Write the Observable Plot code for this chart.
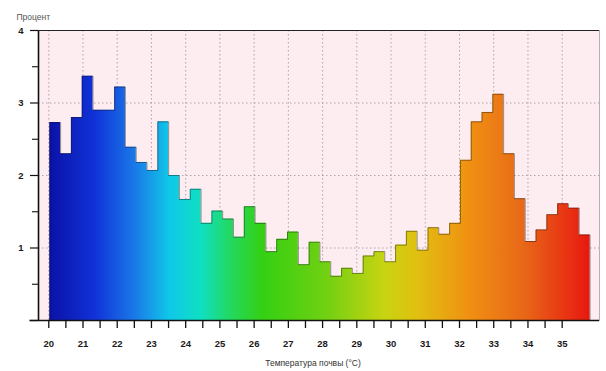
<!DOCTYPE html>
<html>
<head>
<meta charset="utf-8">
<script src="https://cdn.jsdelivr.net/npm/d3@7"></script>
<script src="https://cdn.jsdelivr.net/npm/@observablehq/plot@0.6"></script>
<style>
html, body { margin: 0; padding: 0; background: #fff; }
#chart svg { display: block; }
</style>
</head>
<body>
<svg width="0" height="0" style="position:absolute">
  <defs><linearGradient id="spectrum" x1="0" x2="1" y1="0" y2="0"></linearGradient></defs>
</svg>
<div id="chart"></div>
<script>
// ---- data ----
const binStart = 20.03;          // °C, left edge of first bin
const binWidth = 0.3157;         // °C per bin
const percent = [
  2.73, 2.30, 2.80, 3.37, 2.90, 2.90, 3.22, 2.39, 2.18, 2.07,
  2.74, 2.00, 1.67, 1.81, 1.34, 1.51, 1.40, 1.15, 1.57, 1.34,
  0.95, 1.12, 1.22, 0.77, 1.08, 0.81, 0.61, 0.72, 0.65, 0.89,
  0.95, 0.81, 1.04, 1.23, 0.97, 1.28, 1.19, 1.34, 2.21, 2.74,
  2.87, 3.12, 2.30, 1.68, 1.09, 1.25, 1.46, 1.61, 1.55, 1.18
];
const xLabelTicks = d3.range(20, 35.01, 1);
const xAllTicks = d3.range(20, 35.01, 0.5);
const yLabelTicks = [0, 1, 2, 3, 4];
const yHalfTicks = [0.5, 1.5, 2.5, 3.5];
const yGrid = [1, 2, 3];
const xTitle = "Температура почвы (°C)";
const yTitle = "Процент";

// ---- styles ----
const xDomain = [19.7, 36.09];
const yDomain = [0, 4];
const gradientStops = [
  [0.000, "#0b12a6"], [0.084, "#1032d8"], [0.157, "#1a78e8"],
  [0.223, "#10c8e8"], [0.282, "#10e0c0"], [0.335, "#22d860"],
  [0.395, "#34d012"], [0.514, "#72d012"], [0.620, "#c8d412"],
  [0.680, "#e0c010"], [0.778, "#f09012"], [0.877, "#e86818"],
  [1.000, "#e81810"]
];
const grad = d3.select("#spectrum");
gradientStops.forEach(([o, c]) => grad.append("stop").attr("offset", o).attr("stop-color", c));

// ---- derived tables ----
const binEnd = binStart + percent.length * binWidth;
const areaData = percent.map((v, i) => ({x: binStart + i * binWidth, v}));
areaData.push({x: binEnd, v: percent[percent.length - 1]});
const outline = [{x: binStart, v: 0}, ...areaData, {x: binEnd, v: 0}];

const plot = Plot.plot({
  width: 606,
  height: 371,
  marginLeft: 38,
  marginRight: 7,
  marginTop: 30,
  marginBottom: 51,
  x: {domain: xDomain},
  y: {domain: yDomain},
  style: {fontFamily: "'Liberation Sans', Arial, sans-serif", fontSize: "9.5px", background: "#fff", color: "#1a1a1a"},
  marks: [
    Plot.frame({fill: "#fdedf1", stroke: "#b8b0b2"}),
    Plot.gridX(xLabelTicks, {stroke: "#888", strokeOpacity: 0.7, strokeDasharray: "1.5,2.5"}),
    Plot.gridY(yGrid, {stroke: "#888", strokeOpacity: 0.7, strokeDasharray: "1.5,2.5"}),
    Plot.areaY(areaData, {x: "x", y: "v", curve: "step-after", fill: "url(#spectrum)"}),
    Plot.lineY(outline, {x: "x", y: "v", curve: "step-after", stroke: "#111", strokeOpacity: 0.42, strokeWidth: 1}),
    Plot.ruleX([xDomain[0]], {stroke: "#111", strokeWidth: 1.6}),
    Plot.ruleY([yDomain[0]], {stroke: "#111", strokeWidth: 1.4, x1: xDomain[0] - 0.25, x2: xDomain[1]}),
    Plot.ruleY([yDomain[1]], {stroke: "#222", strokeWidth: 1.2}),
    Plot.axisX(xAllTicks, {tickSize: 8, tickPadding: 12, stroke: "#111", strokeWidth: 1.3,
      tickFormat: d => Number.isInteger(d) ? d : "", fontWeight: "bold", label: null}),
    Plot.axisY(yLabelTicks, {tickSize: 8, tickPadding: 7, stroke: "#111", strokeWidth: 1.2,
      tickFormat: d => d === 0 ? "" : d, fontWeight: "bold", label: null}),
    Plot.axisY(yHalfTicks, {tickSize: 6, stroke: "#111", strokeWidth: 1.1, tickFormat: () => "", label: null}),
    Plot.text([yTitle], {frameAnchor: "top-left", dx: -22, dy: -17, textAnchor: "start", fill: "#555", fontSize: 8.5}),
    Plot.text([xTitle], {frameAnchor: "bottom", dx: -6, dy: 45, fill: "#333", fontSize: 8.5})
  ]
});
document.getElementById("chart").appendChild(plot);
</script>
</body>
</html>
